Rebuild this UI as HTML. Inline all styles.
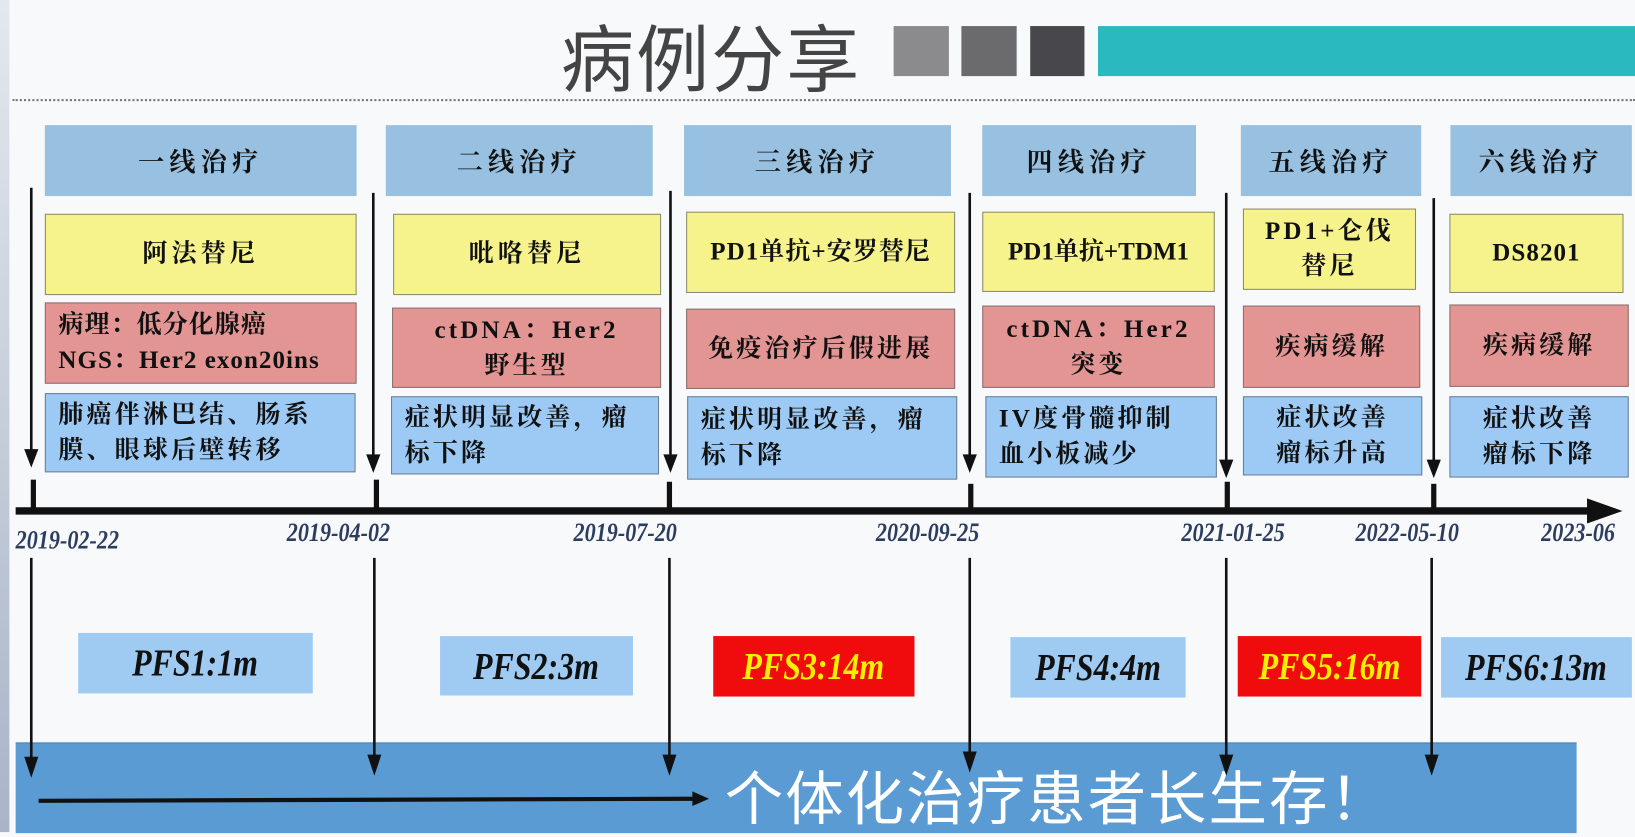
<!DOCTYPE html>
<html><head><meta charset="utf-8"><style>
html,body{margin:0;padding:0;width:1635px;height:832px;overflow:hidden;background:#f8f9fb}
#w{position:absolute;left:0;top:0;width:1568px;height:798px;transform:scale(1.04273);transform-origin:0 0}
.b{position:absolute;box-sizing:border-box;display:flex;align-items:center;justify-content:center;text-align:center;font-family:"Liberation Serif","Noto Serif CJK SC",serif;font-weight:bold;color:#111;font-size:24px;line-height:34px;letter-spacing:1px}
.h{background:#97c0e1;font-size:25px;letter-spacing:5px;padding-top:6px}
.y{background:#f6f38c;border:1.5px solid #8a8a70}
.r{background:#e39594;border:1.5px solid #8a7070}
.u{background:#9dcaf4;border:1.5px solid #6a7f95;justify-content:flex-start;text-align:left;padding-left:12px;letter-spacing:3px}
.d{position:absolute;font-family:"Liberation Serif",serif;font-style:italic;font-weight:bold;color:#2d3d60;font-size:25px;transform:scaleX(0.85);transform-origin:0 0;white-space:nowrap}
.p{position:absolute;box-sizing:border-box;display:flex;align-items:center;justify-content:center;font-family:"Liberation Serif",serif;font-style:italic;font-weight:bold;font-size:36px;color:#111;background:#9fcbf3;white-space:nowrap}
.p span{display:inline-block;transform:scaleX(0.85)}
.p.red{background:#f00c0c;color:#f4f000}
</style></head><body><div id="w">
<div style="position:absolute;left:0;top:0;width:9px;height:798px;background:linear-gradient(#e4e8ee,#a9b4c8)"></div>
<div style="position:absolute;left:538px;top:2px;font-family:'Noto Sans CJK SC',sans-serif;font-size:70px;color:#444;letter-spacing:2px">病例分享</div>
<div style="position:absolute;left:857px;top:25px;width:53px;height:48px;background:#8b8b8d"></div>
<div style="position:absolute;left:922px;top:25px;width:53px;height:48px;background:#6b6b6e"></div>
<div style="position:absolute;left:988px;top:25px;width:52px;height:48px;background:#48474c"></div>
<div style="position:absolute;left:1053px;top:25px;width:515px;height:48px;background:#2bb9c0"></div>
<div style="position:absolute;left:12px;top:95px;width:1556px;border-top:2px dotted #777"></div>

<div class="b h" style="left:43px;top:120px;width:299px;height:68px">一线治疗</div>
<div class="b h" style="left:370px;top:120px;width:256px;height:68px">二线治疗</div>
<div class="b h" style="left:656px;top:120px;width:256px;height:68px">三线治疗</div>
<div class="b h" style="left:942px;top:120px;width:205px;height:68px">四线治疗</div>
<div class="b h" style="left:1190px;top:120px;width:173px;height:68px">五线治疗</div>
<div class="b h" style="left:1391px;top:120px;width:174px;height:68px">六线治疗</div>

<div class="b y" style="left:43px;top:205px;width:299px;height:78px;letter-spacing:4px">阿法替尼</div>
<div class="b y" style="left:377px;top:205px;width:257px;height:78px;letter-spacing:4px">吡咯替尼</div>
<div class="b y" style="left:658px;top:203px;width:258px;height:78px;white-space:nowrap;letter-spacing:1px">PD1单抗+安罗替尼</div>
<div class="b y" style="left:942px;top:203px;width:223px;height:77px;white-space:nowrap;letter-spacing:0">PD1单抗+TDM1</div>
<div class="b y" style="left:1192px;top:200px;width:166px;height:78px;letter-spacing:3px">PD1+仑伐<br>替尼</div>
<div class="b y" style="left:1390px;top:205px;width:167px;height:76px">DS8201</div>

<div class="b r" style="left:43px;top:290px;width:299px;height:78px;letter-spacing:1px;justify-content:flex-start;text-align:left;padding-left:12px;white-space:nowrap">病理：低分化腺癌<br>NGS：Her2 exon20ins</div>
<div class="b r" style="left:376px;top:295px;width:258px;height:77px;letter-spacing:3px">ctDNA：Her2<br>野生型</div>
<div class="b r" style="left:658px;top:296px;width:258px;height:77px;letter-spacing:3px">免疫治疗后假进展</div>
<div class="b r" style="left:942px;top:293px;width:223px;height:79px;letter-spacing:3px">ctDNA：Her2<br>突变</div>
<div class="b r" style="left:1192px;top:293px;width:170px;height:79px;letter-spacing:3px">疾病缓解</div>
<div class="b r" style="left:1390px;top:292px;width:172px;height:79px;letter-spacing:3px">疾病缓解</div>

<div class="b u" style="left:43px;top:377px;width:298px;height:76px">肺癌伴淋巴结、肠系<br>膜、眼球后壁转移</div>
<div class="b u" style="left:375px;top:380px;width:257px;height:75px">症状明显改善，瘤<br>标下降</div>
<div class="b u" style="left:659px;top:380px;width:259px;height:80px">症状明显改善，瘤<br>标下降</div>
<div class="b u" style="left:945px;top:380px;width:222px;height:78px">IV度骨髓抑制<br>血小板减少</div>
<div class="b u" style="left:1192px;top:380px;width:172px;height:76px;justify-content:center;text-align:center;padding:0">症状改善<br>瘤标升高</div>
<div class="b u" style="left:1390px;top:380px;width:172px;height:78px;justify-content:center;text-align:center;padding:0">症状改善<br>瘤标下降</div>

<div class="d" style="left:15px;top:505px">2019-02-22</div>
<div class="d" style="left:275px;top:498px">2019-04-02</div>
<div class="d" style="left:550px;top:498px">2019-07-20</div>
<div class="d" style="left:840px;top:498px">2020-09-25</div>
<div class="d" style="left:1133px;top:498px">2021-01-25</div>
<div class="d" style="left:1300px;top:498px">2022-05-10</div>
<div class="d" style="left:1478px;top:498px">2023-06</div>

<div class="p" style="left:75px;top:607px;width:225px;height:58px"><span>PFS1:1m</span></div>
<div class="p" style="left:422px;top:610px;width:185px;height:57px"><span>PFS2:3m</span></div>
<div class="p red" style="left:684px;top:610px;width:193px;height:58px"><span>PFS3:14m</span></div>
<div class="p" style="left:969px;top:611px;width:168px;height:58px"><span>PFS4:4m</span></div>
<div class="p red" style="left:1187px;top:610px;width:176px;height:58px"><span>PFS5:16m</span></div>
<div class="p" style="left:1382px;top:611px;width:183px;height:58px"><span>PFS6:13m</span></div>

<div style="position:absolute;left:15px;top:712px;width:1497px;height:86px;background:#5b9bd3;border-top:1px solid #4a80b0"></div>
<div style="position:absolute;left:695px;top:728px;font-family:'Noto Sans CJK SC',sans-serif;font-size:56px;color:#fff;letter-spacing:2px;line-height:70px">个体化治疗患者长生存！</div>

<svg width="1568" height="798" style="position:absolute;left:0;top:0">
<g stroke="#111" stroke-width="2.5">
<line x1="30" y1="180" x2="30" y2="445"/><path d="M25,432 L35,432 L30,445Z" fill="#111"/>
<line x1="358" y1="185" x2="358" y2="450"/><path d="M353,437 L363,437 L358,450Z" fill="#111"/>
<line x1="643" y1="183" x2="643" y2="450"/><path d="M638,437 L648,437 L643,450Z" fill="#111"/>
<line x1="930" y1="185" x2="930" y2="450"/><path d="M925,437 L935,437 L930,450Z" fill="#111"/>
<line x1="1176" y1="185" x2="1176" y2="455"/><path d="M1171,442 L1181,442 L1176,455Z" fill="#111"/>
<line x1="1375" y1="190" x2="1375" y2="455"/><path d="M1370,442 L1380,442 L1375,455Z" fill="#111"/>
</g>
<g stroke="#111" stroke-width="5">
<line x1="32" y1="460" x2="32" y2="490"/><line x1="361" y1="460" x2="361" y2="490"/><line x1="642" y1="462" x2="642" y2="490"/><line x1="931" y1="464" x2="931" y2="490"/><line x1="1177" y1="462" x2="1177" y2="490"/><line x1="1375" y1="464" x2="1375" y2="490"/>
<line x1="15" y1="490" x2="1530" y2="490" stroke-width="7"/>
</g>
<path d="M1522,478 L1556,490 L1522,502Z" fill="#111"/>
<g stroke="#111" stroke-width="2.5">
<line x1="30" y1="535" x2="30" y2="740"/><path d="M25,727 L35,727 L30,742Z" fill="#111"/>
<line x1="359" y1="535" x2="359" y2="738"/><path d="M354,725 L364,725 L359,740Z" fill="#111"/>
<line x1="642" y1="535" x2="642" y2="738"/><path d="M637,725 L647,725 L642,740Z" fill="#111"/>
<line x1="930" y1="535" x2="930" y2="735"/><path d="M925,722 L935,722 L930,737Z" fill="#111"/>
<line x1="1176" y1="535" x2="1176" y2="738"/><path d="M1171,725 L1181,725 L1176,740Z" fill="#111"/>
<line x1="1373" y1="535" x2="1373" y2="738"/><path d="M1368,725 L1378,725 L1373,740Z" fill="#111"/>
<line x1="37" y1="768" x2="670" y2="766" stroke-width="4"/>
</g>
<path d="M664,759 L680,766 L664,773Z" fill="#111"/>
</svg>
</div></body></html>
